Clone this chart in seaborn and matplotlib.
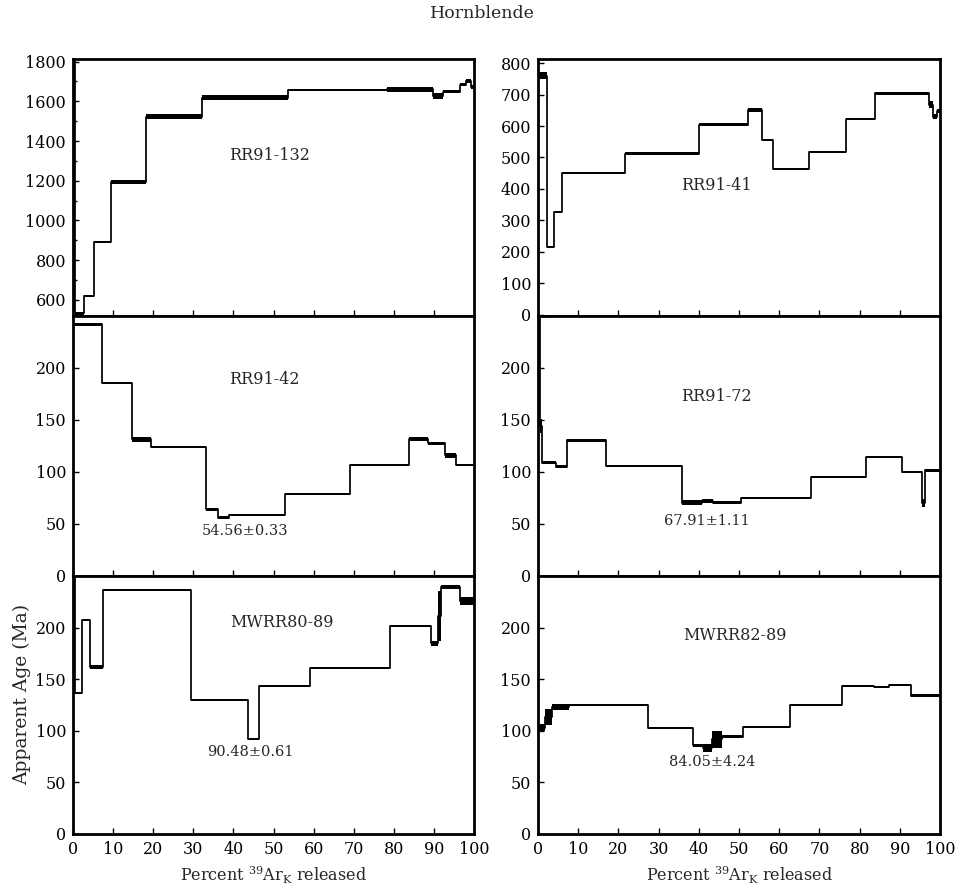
import numpy as np
import matplotlib
matplotlib.use("Agg")
import matplotlib.pyplot as plt
from matplotlib.ticker import MultipleLocator, FixedLocator
import seaborn as sns

# ---- step-heating data: cumulative % 39ArK edges, apparent ages (Ma), 1-sigma box half-heights ----
rr91_132_edges = [0, 0.5, 2.7, 5.2, 9.4, 18.1, 32.1, 53.5, 78.3, 89.8, 92.3, 96.5, 98.0, 99.2, 100]
rr91_132_ages = [2000, 533, 620, 890, 1195, 1522, 1618, 1658, 1660, 1628, 1648, 1683, 1700, 1672]
rr91_132_errs = [5, 7, 5, 5, 10, 12, 12, 6, 12, 14, 8, 8, 10, 12]

rr91_41_edges = [0, 2.2, 4.0, 6.0, 21.7, 40.0, 52.3, 55.8, 58.5, 67.5, 76.5, 83.75, 97.3, 98.3, 99.3, 100]
rr91_41_ages = [760, 216, 326, 450, 512, 604, 652, 556, 463, 518, 622, 704, 668, 630, 648]
rr91_41_errs = [12, 4, 4, 4, 4, 4, 6, 4, 4, 4, 4, 4, 10, 8, 6]

rr91_42_edges = [0, 7.2, 14.8, 19.5, 33.2, 36.1, 39.0, 52.75, 69.0, 83.8, 88.6, 92.75, 95.5, 100]
rr91_42_ages = [242, 186, 131.6, 124, 64, 56, 58.7, 79, 106.5, 131.6, 127.7, 116, 106.5]
rr91_42_errs = [1.5, 1, 2.5, 1, 1.5, 1.5, 1, 1, 1, 2, 1.5, 2.5, 1]

rr91_72_edges = [0, 0.4, 0.9, 4.6, 7.1, 16.8, 35.9, 40.7, 43.6, 50.6, 67.9, 81.7, 90.5, 95.4, 96.3, 100]
rr91_72_ages = [300, 144, 109, 105, 130.5, 105.6, 70.5, 72, 70.5, 75.4, 95, 114.8, 100, 70.5, 101.6]
rr91_72_errs = [2, 6.5, 1.6, 1.6, 1.5, 1, 2.3, 1.8, 1.2, 1, 1, 1, 1, 4, 1.3]

mwrr80_89_edges = [0, 0.4, 2.2, 4.3, 7.6, 29.4, 43.7, 46.3, 59.2, 79.1, 89.3, 91.0, 91.8, 96.5, 100]
mwrr80_89_ages = [300, 137, 207, 162, 236, 130, 92, 143.5, 160.5, 202, 185, 211, 239, 226]
mwrr80_89_errs = [2, 1, 1, 2.2, 1, 1, 1.3, 1, 1, 1, 2.5, 24, 2, 4]

mwrr82_89_edges = [0, 1.8, 3.6, 7.8, 27.4, 38.5, 41.0, 43.3, 45.7, 50.9, 62.7, 75.7, 83.5, 87.2, 92.7, 100]
mwrr82_89_ages = [103, 113.5, 123, 125.4, 103, 86, 83.6, 91.6, 94.2, 103.5, 124.8, 143, 142, 144.7, 134]
mwrr82_89_errs = [3.2, 8, 2.7, 1, 1, 1.3, 3.7, 8.5, 1.3, 1, 1, 1, 1, 1, 1.2]

sample_names = ["RR91-132", "RR91-41", "RR91-42", "RR91-72", "MWRR80-89", "MWRR82-89"]
plateau_labels = [None, None, "54.56\u00b10.33", "67.91\u00b11.11", "90.48\u00b10.61", "84.05\u00b14.24"]

x_ticks = list(range(0, 101, 10))
y_ticks = [list(range(600, 1801, 200)), list(range(0, 801, 100)),
           list(range(0, 201, 50)), list(range(0, 201, 50)),
           list(range(0, 201, 50)), list(range(0, 201, 50))]
y_limits = [(519, 1813), (-4, 813), (0, 250), (0, 250), (0, 250), (0, 250)]

series = [
    (rr91_132_edges, rr91_132_ages, rr91_132_errs),
    (rr91_41_edges, rr91_41_ages, rr91_41_errs),
    (rr91_42_edges, rr91_42_ages, rr91_42_errs),
    (rr91_72_edges, rr91_72_ages, rr91_72_errs),
    (mwrr80_89_edges, mwrr80_89_ages, mwrr80_89_errs),
    (mwrr82_89_edges, mwrr82_89_ages, mwrr82_89_errs),
]

# ---- text placement inside each panel (axes fraction) ----
name_pos = [(0.49, 0.624), (0.443, 0.508), (0.477, 0.757), (0.443, 0.691), (0.52, 0.82), (0.49, 0.771)]
plateau_pos = [None, None, (0.43, 0.174), (0.42, 0.212), (0.443, 0.318), (0.434, 0.28)]

sns.set_style("ticks")
plt.rcParams["font.family"] = ["DejaVu Serif"]
plt.rcParams["mathtext.fontset"] = "dejavuserif"

W, H = 961, 890
fig = plt.figure(figsize=(W / 100, H / 100), dpi=100)

col_x = [(73, 474), (538, 940)]
row_y = [(59, 316), (316, 576), (576, 834)]


def draw_spectrum(ax, edges, ages, errs):
    edges = np.asarray(edges, float)
    ages = np.asarray(ages, float)
    errs = np.asarray(errs, float)
    ax.bar(edges[:-1], 2 * errs, width=np.diff(edges), bottom=ages - errs,
           align="edge", color="black", linewidth=0, zorder=2)
    sns.lineplot(x=edges, y=np.append(ages, ages[-1]), drawstyle="steps-post",
                 color="black", linewidth=1.25, ax=ax, zorder=3)


for i, (edges, ages, errs) in enumerate(series):
    r, c = divmod(i, 2)
    x0, x1 = col_x[c]
    y0, y1 = row_y[r]
    ax = fig.add_axes([x0 / W, 1 - y1 / H, (x1 - x0) / W, (y1 - y0) / H])
    draw_spectrum(ax, edges, ages, errs)

    ax.set_xlim(0, 100)
    ax.set_ylim(*y_limits[i])
    ax.xaxis.set_major_locator(FixedLocator(x_ticks))
    ax.yaxis.set_major_locator(FixedLocator(y_ticks[i]))
    if i == 0:
        ax.yaxis.set_minor_locator(MultipleLocator(100))
    ax.tick_params(axis="both", which="both", direction="in", labelsize=11.5,
                   width=1.0, pad=5, colors="black")
    ax.tick_params(axis="both", which="major", length=4)
    ax.tick_params(axis="y", which="minor", length=3)
    for side in ax.spines.values():
        side.set_linewidth(2.0)
        side.set_color("black")
        side.set_visible(True)

    if r < 2:
        ax.tick_params(axis="x", labelbottom=False)
        ax.set_xlabel("")
    else:
        ax.set_xlabel("Percent $^{39}$Ar$_{\\rm K}$ released", fontsize=11.5, labelpad=5)
    ax.set_ylabel("")

    nx, ny = name_pos[i]
    ax.text(nx, ny, sample_names[i], transform=ax.transAxes, ha="center",
            va="center", fontsize=11.5)
    if plateau_labels[i]:
        px, py = plateau_pos[i]
        ax.text(px, py, plateau_labels[i], transform=ax.transAxes, ha="center",
                va="center", fontsize=10.5)

    if i == 4:
        ax.set_ylabel("Apparent Age (Ma)", fontsize=13.5)
        ax.yaxis.set_label_coords(-0.105, 0.54)

fig.text(482 / W, 1 - 14 / H, "Hornblende", ha="center", va="center", fontsize=12.5)

fig.savefig("out.png", dpi=100, facecolor="white")
